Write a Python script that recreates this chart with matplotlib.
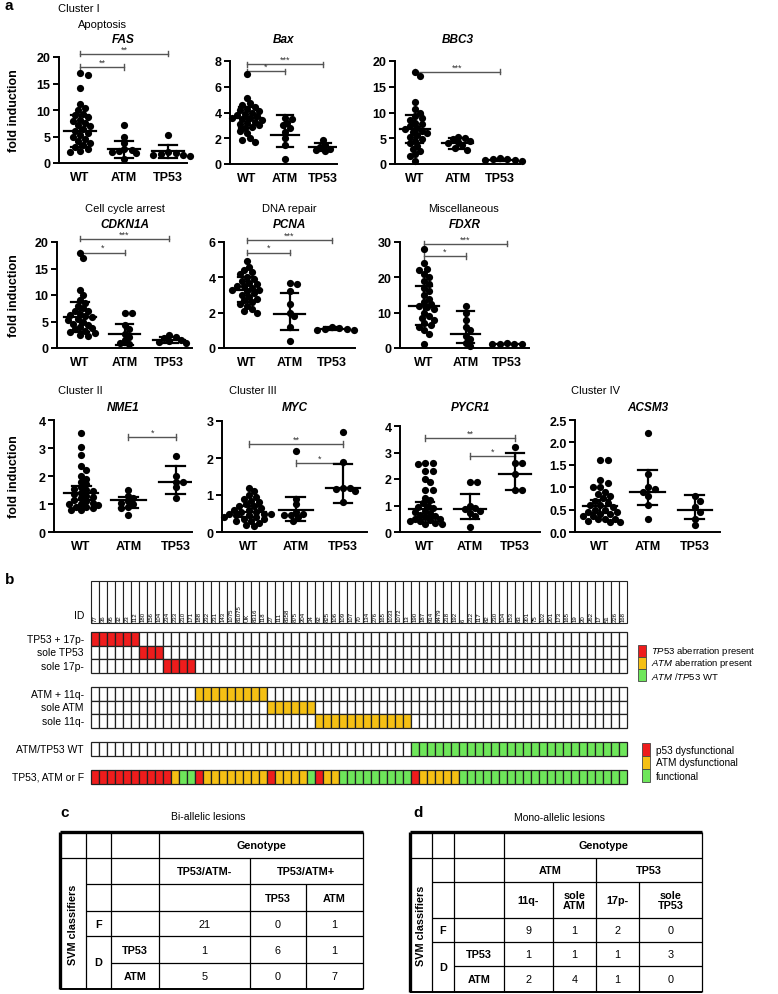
import numpy as np
import matplotlib
matplotlib.use("Agg")
import matplotlib.pyplot as plt
from matplotlib.patches import Rectangle

plt.rcParams['font.family'] = ['Liberation Sans', 'DejaVu Sans']
plt.rcParams['mathtext.fontset'] = 'custom'
plt.rcParams['mathtext.it'] = 'Liberation Sans:italic'
plt.rcParams['mathtext.rm'] = 'Liberation Sans'

W, H = 778, 995
groups = ["WT", "ATM", "TP53"]

# ---------------- panel a: fold induction values ----------------
fas_wt = [17.0, 16.6, 14.1, 11.2, 10.4, 10.0, 9.2, 9.0, 8.6, 8.2, 7.9, 7.5, 7.2, 6.9, 6.5,
          6.1, 5.7, 5.3, 5.0, 4.6, 4.2, 3.8, 3.4, 3.0, 2.6, 2.3, 2.1]
fas_atm = [7.2, 5.0, 3.8, 2.7, 2.4, 2.2, 2.0, 1.8, 0.8]
fas_tp53 = [5.3, 2.1, 1.9, 1.7, 1.6, 1.5, 1.4]
fas_mid, fas_lo, fas_hi = [6.0, 2.6, 2.2], [3.0, 1.0, 1.0], [9.0, 4.2, 3.4]
fas_sig = [(0, 2, 20.6, "**"), (0, 1, 18.1, "**")]

bax_wt = [7.0, 5.1, 4.7, 4.6, 4.4, 4.3, 4.2, 4.1, 4.0, 3.9, 3.8, 3.7, 3.6, 3.6, 3.5, 3.4,
          3.3, 3.2, 3.1, 3.0, 2.9, 2.8, 2.6, 2.4, 2.0, 1.9, 1.7]
bax_atm = [3.6, 3.5, 3.2, 3.0, 2.8, 2.5, 2.0, 1.5, 0.4]
bax_tp53 = [1.9, 1.5, 1.3, 1.2, 1.1, 1.0]
bax_mid, bax_lo, bax_hi = [3.6, 2.25, 1.3], [2.8, 1.3, 1.0], [4.4, 3.8, 1.6]
bax_sig = [(0, 2, 7.75, "***"), (0, 1, 7.2, "*")]

bbc3_wt = [17.8, 17.0, 12.0, 10.6, 10.0, 9.4, 9.0, 8.5, 8.0, 7.7, 7.4, 7.0, 6.8, 6.5, 6.2,
           6.0, 5.6, 5.2, 4.8, 4.5, 4.0, 3.5, 3.0, 2.5, 2.0, 1.5, 0.6]
bbc3_atm = [5.3, 5.0, 4.8, 4.5, 4.2, 4.0, 3.6, 3.2, 2.8]
bbc3_tp53 = [1.2, 1.0, 0.9, 0.8, 0.7, 0.6]
bbc3_mid, bbc3_lo, bbc3_hi = [6.8, 4.0, 0.8], [4.0, 3.0, 0.6], [9.6, 5.0, 1.0]
bbc3_sig = [(0, 2, 17.9, "***")]

cdkn1a_wt = [18.0, 17.0, 11.0, 10.0, 9.0, 8.5, 8.0, 7.5, 7.0, 7.0, 6.5, 6.2, 6.0, 5.8, 5.5,
             5.2, 5.0, 4.6, 4.4, 4.0, 3.8, 3.5, 3.2, 3.0, 2.8, 2.5, 2.2]
cdkn1a_atm = [6.6, 6.6, 4.4, 3.5, 2.6, 2.0, 1.5, 1.0, 0.7]
cdkn1a_tp53 = [2.4, 2.0, 1.8, 1.5, 1.3, 1.2, 1.0]
cdkn1a_mid, cdkn1a_lo, cdkn1a_hi = [5.8, 2.6, 1.5], [3.0, 0.6, 1.0], [8.6, 4.6, 2.0]
cdkn1a_sig = [(0, 2, 20.6, "***"), (0, 1, 18.0, "*")]

pcna_wt = [4.9, 4.6, 4.4, 4.3, 4.2, 4.0, 3.9, 3.8, 3.7, 3.6, 3.5, 3.5, 3.4, 3.3, 3.3, 3.2,
           3.1, 3.0, 2.9, 2.8, 2.7, 2.6, 2.5, 2.4, 2.2, 2.1, 2.0]
pcna_atm = [3.7, 3.6, 3.2, 2.5, 2.0, 1.8, 1.2, 0.4]
pcna_tp53 = [1.2, 1.15, 1.1, 1.05, 1.0, 1.0]
pcna_mid, pcna_lo, pcna_hi = [3.3, 1.9, 1.1], [2.6, 1.0, 1.0], [4.0, 3.1, 1.2]
pcna_sig = [(0, 2, 6.1, "***"), (0, 1, 5.4, "*")]

fdxr_wt = [28.0, 24.0, 22.5, 22.0, 21.0, 20.0, 19.0, 18.0, 17.0, 16.0, 15.0, 14.0, 13.0,
           12.5, 12.0, 11.5, 11.0, 10.0, 9.0, 8.5, 8.0, 7.0, 6.5, 6.0, 5.0, 4.0, 1.0]
fdxr_atm = [12.0, 10.0, 8.0, 6.0, 5.0, 3.5, 2.5, 1.5, 0.5]
fdxr_tp53 = [1.3, 1.2, 1.1, 1.0, 1.0]
fdxr_mid, fdxr_lo, fdxr_hi = [12.0, 3.9, 1.1], [6.5, 1.5, 1.0], [17.5, 10.5, 1.2]
fdxr_sig = [(0, 2, 29.5, "***"), (0, 1, 26.0, "*")]

nme1_wt = [3.55, 3.05, 2.75, 2.35, 2.2, 2.0, 1.9, 1.8, 1.7, 1.6, 1.55, 1.5, 1.45, 1.4, 1.35,
           1.3, 1.25, 1.2, 1.15, 1.1, 1.05, 1.0, 1.0, 0.95, 0.9, 0.9, 0.85, 0.8, 0.8]
nme1_atm = [1.5, 1.3, 1.2, 1.1, 1.05, 1.0, 0.9, 0.85, 0.6]
nme1_tp53 = [2.7, 2.0, 1.8, 1.8, 1.6, 1.2]
nme1_mid, nme1_lo, nme1_hi = [1.4, 1.15, 1.8], [1.15, 0.85, 1.35], [1.65, 1.25, 2.35]
nme1_sig = [(1, 2, 3.39, "*")]

myc_wt = [1.2, 1.1, 1.0, 0.95, 0.9, 0.85, 0.8, 0.75, 0.7, 0.7, 0.65, 0.6, 0.6, 0.55, 0.55,
          0.5, 0.5, 0.5, 0.45, 0.45, 0.4, 0.4, 0.35, 0.35, 0.3, 0.3, 0.25, 0.2, 0.15]
myc_atm = [2.2, 0.9, 0.75, 0.55, 0.5, 0.45, 0.45, 0.4, 0.3]
myc_tp53 = [2.7, 1.9, 1.2, 1.2, 1.15, 1.1, 0.8]
myc_mid, myc_lo, myc_hi = [0.55, 0.6, 1.2], [0.4, 0.3, 0.78], [0.7, 0.95, 1.85]
myc_sig = [(0, 2, 2.38, "**"), (1, 2, 1.86, "*")]

pycr1_wt = [2.6, 2.6, 2.55, 2.3, 2.3, 2.0, 1.9, 1.6, 1.6, 1.3, 1.2, 1.1, 1.0, 0.95, 0.9,
            0.8, 0.75, 0.7, 0.65, 0.6, 0.55, 0.5, 0.5, 0.45, 0.4, 0.4, 0.35, 0.3, 0.3]
pycr1_atm = [1.9, 1.9, 1.0, 0.9, 0.85, 0.8, 0.7, 0.6, 0.2]
pycr1_tp53 = [3.2, 2.6, 2.6, 2.2, 1.6, 1.6]
pycr1_mid, pycr1_lo, pycr1_hi = [0.85, 0.85, 2.2], [0.55, 0.5, 1.6], [1.15, 1.45, 3.0]
pycr1_sig = [(0, 2, 3.55, "**"), (1, 2, 2.87, "*")]

acsm3_wt = [1.6, 1.6, 1.15, 1.1, 1.0, 1.0, 0.9, 0.85, 0.8, 0.75, 0.7, 0.65, 0.6, 0.6, 0.55,
            0.5, 0.5, 0.45, 0.45, 0.4, 0.4, 0.35, 0.35, 0.3, 0.3, 0.28, 0.25, 0.22, 0.22]
acsm3_atm = [2.2, 1.3, 1.0, 0.95, 0.9, 0.8, 0.6, 0.3]
acsm3_tp53 = [0.8, 0.7, 0.55, 0.45, 0.3, 0.15]
acsm3_mid, acsm3_lo, acsm3_hi = [0.57, 0.9, 0.48], [0.42, 0.6, 0.3], [0.72, 1.38, 0.82]
acsm3_sig = []

# ---------------- panel b ----------------
patient_ids = ["77", "36", "95", "32", "23", "112", "180", "156", "104", "234", "233", "210",
               "171", "188", "232", "231", "143", "1075", "81075", "UK", "8316", "118", "27",
               "111", "8358", "875", "204", "34", "92", "825", "106", "109", "107", "70", "134",
               "276", "165", "1033", "1072", "13", "190", "187", "914", "8479", "218", "192",
               "6", "212", "117", "82", "230", "104", "153", "83", "301", "75", "102", "201",
               "173", "165", "19", "20", "262", "17", "51", "226", "168"]
tp53_rows = ["TP53 + 17p-", "sole TP53", "sole 17p-"]
tp53_counts = [6, 3, 4]
atm_rows = ["ATM + 11q-", "sole ATM", "sole 11q-"]
atm_counts = [9, 6, 12]
wt_count = 27
svm_codes = ["p53", "atm", "ok", "p53", "atm", "p53", "atm", "ok", "p53", "atm", "ok", "p53", "atm", "ok"]
svm_runs = [10, 1, 2, 1, 8, 1, 4, 1, 1, 2, 9, 1, 5, 21]

# ---------------- panels c / d ----------------
bi_header = ["TP53/ATM-", "TP53/ATM+"]
bi_sub = ["", "TP53", "ATM"]
bi_F = [21, 0, 1]
bi_D_tp53 = [1, 6, 1]
bi_D_atm = [5, 0, 7]
mono_header = ["ATM", "TP53"]
mono_sub = ["11q-", "sole\nATM", "17p-", "sole\nTP53"]
mono_F = [9, 1, 2, 0]
mono_D_tp53 = [1, 1, 1, 3]
mono_D_atm = [2, 4, 1, 0]

RED, YEL, GRN = "#ee1c1c", "#f5c014", "#6ee65a"
code_color = {"p53": RED, "atm": YEL, "ok": GRN}

fig = plt.figure(figsize=(W / 100, H / 100), dpi=100)


def px_axes(l, t, r, b):
    return fig.add_axes([l / W, 1 - b / H, (r - l) / W, (b - t) / H])


def swarm_offsets(ax, xc, vals, d=6.2):
    tr = ax.transData
    ypx = tr.transform(np.column_stack([np.full(len(vals), xc), vals]))[:, 1]
    ux = tr.transform((1, 0))[0] - tr.transform((0, 0))[0]
    placed = []
    offs = np.zeros(len(vals))
    for k in np.argsort(-np.asarray(vals)):
        for step in range(80):
            o = 0.0 if step == 0 else ((step + 1) // 2) * (d / 2.5) * (1 if step % 2 else -1)
            if all((o - px) ** 2 + (ypx[k] - py) ** 2 >= d * d * 0.8 for px, py in placed):
                break
        placed.append((o, ypx[k]))
        offs[k] = o / ux
    return offs


panels = [
    ("FAS", [fas_wt, fas_atm, fas_tp53], fas_mid, fas_lo, fas_hi, fas_sig, 20, 5, (59, 58, 187, 164, 0.52, 3.43), 40),
    ("Bax", [bax_wt, bax_atm, bax_tp53], bax_mid, bax_lo, bax_hi, bax_sig, 8, 2, (230, 62, 337, 165, 0.55, 3.37), 40),
    ("BBC3", [bbc3_wt, bbc3_atm, bbc3_tp53], bbc3_mid, bbc3_lo, bbc3_hi, bbc3_sig, 20, 5, (395, 62, 520, 165, 0.53, 3.47), 40),
    ("CDKN1A", [cdkn1a_wt, cdkn1a_atm, cdkn1a_tp53], cdkn1a_mid, cdkn1a_lo, cdkn1a_hi, cdkn1a_sig, 20, 5, (57, 243, 192, 349, 0.48, 3.52), 225),
    ("PCNA", [pcna_wt, pcna_atm, pcna_tp53], pcna_mid, pcna_lo, pcna_hi, pcna_sig, 6, 2, (224, 243, 355, 349, 0.46, 3.54), 225),
    ("FDXR", [fdxr_wt, fdxr_atm, fdxr_tp53], fdxr_mid, fdxr_lo, fdxr_hi, fdxr_sig, 30, 10, (400, 243, 529, 349, 0.42, 3.53), 225),
    ("NME1", [nme1_wt, nme1_atm, nme1_tp53], nme1_mid, nme1_lo, nme1_hi, nme1_sig, 4, 1, (54, 421, 192, 533, 0.43, 3.34), 408),
    ("MYC", [myc_wt, myc_atm, myc_tp53], myc_mid, myc_lo, myc_hi, myc_sig, 3, 1, (222, 422, 367, 533, 0.43, 3.51), 408),
    ("PYCR1", [pycr1_wt, pycr1_atm, pycr1_tp53], pycr1_mid, pycr1_lo, pycr1_hi, pycr1_sig, 4, 1, (400, 427, 540, 533, 0.44, 3.56), 408),
    ("ACSM3", [acsm3_wt, acsm3_atm, acsm3_tp53], acsm3_mid, acsm3_lo, acsm3_hi, acsm3_sig, 2.5, 0.5, (575, 421, 720, 533, 0.47, 3.53), 408),
]
ylabel_on = {"FAS", "CDKN1A", "NME1"}

for name, data, mid, lo, hi, sig, ytop, ystep, box, title_y in panels:
    l, t, r, b, x0, x1 = box
    ax = px_axes(l, t, r, b)
    ax.set_xlim(x0, x1)
    ax.set_ylim(0, ytop)
    for s in ["top", "right"]:
        ax.spines[s].set_visible(False)
    for s in ["left", "bottom"]:
        ax.spines[s].set_linewidth(1.4)
    ticks = np.arange(0, ytop + ystep / 2, ystep)
    ax.set_yticks(ticks)
    if ystep < 1:
        ax.set_yticklabels([f"{v:.1f}" for v in ticks])
    else:
        ax.set_yticklabels([f"{v:g}" for v in ticks])
    ax.set_xticks([1, 2, 3])
    ax.set_xticklabels(groups)
    ax.tick_params(axis="y", length=4, width=1.4, pad=2, labelsize=9)
    ax.tick_params(axis="x", length=0, pad=6, labelsize=9)
    for lab in ax.get_xticklabels() + ax.get_yticklabels():
        lab.set_fontweight("bold")
    for i, vals in enumerate(data):
        xc = i + 1
        offs = swarm_offsets(ax, xc, vals)
        ax.scatter(xc + offs, vals, s=27, color="black", linewidths=0, zorder=3, clip_on=False)
        ax.plot([xc - 0.36, xc + 0.36], [mid[i], mid[i]], color="black", lw=1.6, zorder=4)
        ax.plot([xc, xc], [lo[i], hi[i]], color="black", lw=1.6, zorder=4)
        for cap in (lo[i], hi[i]):
            ax.plot([xc - 0.2, xc + 0.2], [cap, cap], color="black", lw=1.6, zorder=4)
    for i, j, yb, stars in sig:
        ax.plot([i + 1, j + 1], [yb, yb], color="#555555", lw=1.0, clip_on=False)
        dy = ytop * 0.025
        for e in (i + 1, j + 1):
            ax.plot([e, e], [yb - dy, yb + dy], color="#555555", lw=1.0, clip_on=False)
        ax.text((i + j) / 2 + 1, yb + ytop * 0.005, stars, ha="center", va="bottom",
                fontsize=6.5, color="#333333", clip_on=False)
    fig.text(((l + r) / 2) / W, 1 - title_y / H, name, ha="center", va="center",
             fontsize=8.5, fontweight="bold", fontstyle="italic")
    if name in ylabel_on:
        fig.text(14 / W, 1 - ((t + b) / 2) / H, "fold induction", rotation=90,
                 ha="center", va="center", fontsize=9, fontweight="bold")

# overlay axes in pixel coordinates for labels, panel b and tables
ov = fig.add_axes([0, 0, 1, 1])
ov.set_xlim(0, W)
ov.set_ylim(H, 0)
ov.axis("off")

for lab, x, y in [("a", 5, 6), ("b", 5, 580), ("c", 60, 813), ("d", 413, 813)]:
    ov.text(x, y, lab, fontsize=11, fontweight="bold", ha="left", va="center")
ov.text(58, 9, "Cluster I", fontsize=8, ha="left", va="center")
ov.text(78, 25, "Apoptosis", fontsize=8, ha="left", va="center")
ov.text(125, 209, "Cell cycle arrest", fontsize=8, ha="center", va="center")
ov.text(289, 209, "DNA repair", fontsize=8, ha="center", va="center")
ov.text(464, 209, "Miscellaneous", fontsize=8, ha="center", va="center")
ov.text(58, 391, "Cluster II", fontsize=8, ha="left", va="center")
ov.text(229, 391, "Cluster III", fontsize=8, ha="left", va="center")
ov.text(571, 391, "Cluster IV", fontsize=8, ha="left", va="center")

# ---- panel b grid ----
gx0, cw, rh = 91, 8.0, 13.5
n = len(patient_ids)
ec = "#222222"


def draw_row(y, colors, label):
    for k in range(n):
        ov.add_patch(Rectangle((gx0 + k * cw, y), cw, rh, facecolor=colors[k],
                               edgecolor=ec, lw=0.9))
    ov.text(84, y + rh / 2, label, ha="right", va="center", fontsize=7.5)


# ID box
id_top, id_bot = 582, 624
for k, pid in enumerate(patient_ids):
    ov.add_patch(Rectangle((gx0 + k * cw, id_top), cw, id_bot - id_top, facecolor="white",
                           edgecolor=ec, lw=0.8))
    ov.text(gx0 + (k + 0.5) * cw, id_bot - 1.5, pid, rotation=90, ha="center", va="bottom",
            fontsize=4.3)
ov.text(84, id_bot - 8, "ID", ha="right", va="center", fontsize=7.5)

start = 0
y = 633
for lab, c in zip(tp53_rows, tp53_counts):
    cols = ["white"] * n
    for k in range(start, start + c):
        cols[k] = RED
    draw_row(y, cols, lab)
    start += c
    y += rh
y = 688
for lab, c in zip(atm_rows, atm_counts):
    cols = ["white"] * n
    for k in range(start, start + c):
        cols[k] = YEL
    draw_row(y, cols, lab)
    start += c
    y += rh
cols = ["white"] * n
for k in range(start, start + wt_count):
    cols[k] = GRN
draw_row(743, cols, "ATM/TP53 WT")
cols = []
for code, run in zip(svm_codes, svm_runs):
    cols += [code_color[code]] * run
draw_row(771, cols, "TP53, ATM or F")

# legends
leg1 = [(RED, r"$\mathit{TP53}$ aberration present"), (YEL, r"$\mathit{ATM}$ aberration present"),
        (GRN, r"$\mathit{ATM}$ /$\mathit{TP53}$ WT")]
for k, (c, txt) in enumerate(leg1):
    yy = 646 + k * 12
    ov.add_patch(Rectangle((638, yy), 8, 12, facecolor=c, edgecolor="#444444", lw=0.6))
    ov.text(651, yy + 6, txt, ha="left", va="center", fontsize=6.8)
leg2 = [(RED, "p53 dysfunctional"), (YEL, "ATM dysfunctional"), (GRN, "functional")]
for k, (c, txt) in enumerate(leg2):
    yy = 744 + k * 13
    ov.add_patch(Rectangle((642, yy), 8, 13, facecolor=c, edgecolor="#444444", lw=0.6))
    ov.text(656, yy + 6.5, txt, ha="left", va="center", fontsize=7.2)

# ---- tables ----
def hline(y, x0, x1, lw=0.9):
    ov.plot([x0, x1], [y, y], color="black", lw=lw, solid_capstyle="butt")


def vline(x, y0, y1, lw=0.9):
    ov.plot([x, x], [y0, y1], color="black", lw=lw, solid_capstyle="butt")


def cell_text(x0, x1, y0, y1, s, bold=False):
    ov.text((x0 + x1) / 2, (y0 + y1) / 2, s, ha="center", va="center", fontsize=7.8,
            fontweight="bold" if bold else "normal", linespacing=1.0)


ov.text(208, 817, "Bi-allelic lesions", ha="center", va="center", fontsize=7.5)
ov.text(560, 818, "Mono-allelic lesions", ha="center", va="center", fontsize=7.5)

# table c
cx = [60, 86, 111, 159, 250, 306, 363]
cy = [833, 859, 885, 912, 937, 964, 990]
hline(cy[0], cx[0], cx[-1], lw=2.4)
hline(cy[1], cx[0], cx[-1])
for yy in cy[2:5]:
    hline(yy, cx[1], cx[-1])
hline(cy[5], cx[2], cx[-1])
hline(cy[6], cx[0], cx[-1], lw=1.4)
vline(cx[0], cy[0], cy[6], lw=2.4)
for xx in cx[1:4]:
    vline(xx, cy[0], cy[6])
vline(cx[4], cy[1], cy[6])
vline(cx[5], cy[2], cy[6])
vline(cx[6], cy[0], cy[6])
cell_text(cx[3], cx[6], cy[0], cy[1], "Genotype", True)
cell_text(cx[3], cx[4], cy[1], cy[2], bi_header[0], True)
cell_text(cx[4], cx[6], cy[1], cy[2], bi_header[1], True)
for k in range(3):
    cell_text(cx[3 + k], cx[4 + k], cy[2], cy[3], bi_sub[k], True)
    cell_text(cx[3 + k], cx[4 + k], cy[3], cy[4], str(bi_F[k]))
    cell_text(cx[3 + k], cx[4 + k], cy[4], cy[5], str(bi_D_tp53[k]))
    cell_text(cx[3 + k], cx[4 + k], cy[5], cy[6], str(bi_D_atm[k]))
cell_text(cx[1], cx[2], cy[3], cy[4], "F", True)
cell_text(cx[1], cx[2], cy[4], cy[6], "D", True)
cell_text(cx[2], cx[3], cy[4], cy[5], "TP53", True)
cell_text(cx[2], cx[3], cy[5], cy[6], "ATM", True)
ov.text((cx[0] + cx[1]) / 2, (cy[1] + cy[6]) / 2, "SVM classifiers", rotation=90,
        ha="center", va="center", fontsize=7.8, fontweight="bold")

# table d
dx = [410, 432, 454, 504, 553, 596, 639, 702]
dy = [833, 859, 883, 919, 943, 967, 993]
hline(dy[0], dx[0], dx[-1], lw=2.4)
hline(dy[1], dx[0], dx[-1])
for yy in dy[2:5]:
    hline(yy, dx[1], dx[-1])
hline(dy[5], dx[2], dx[-1])
hline(dy[6], dx[0], dx[-1], lw=1.4)
vline(dx[0], dy[0], dy[6], lw=2.4)
for xx in dx[1:4]:
    vline(xx, dy[0], dy[6])
vline(dx[5], dy[1], dy[6])
vline(dx[4], dy[2], dy[6])
vline(dx[6], dy[2], dy[6])
vline(dx[7], dy[0], dy[6])
cell_text(dx[3], dx[7], dy[0], dy[1], "Genotype", True)
cell_text(dx[3], dx[5], dy[1], dy[2], mono_header[0], True)
cell_text(dx[5], dx[7], dy[1], dy[2], mono_header[1], True)
for k in range(4):
    cell_text(dx[3 + k], dx[4 + k], dy[2], dy[3], mono_sub[k], True)
    cell_text(dx[3 + k], dx[4 + k], dy[3], dy[4], str(mono_F[k]))
    cell_text(dx[3 + k], dx[4 + k], dy[4], dy[5], str(mono_D_tp53[k]))
    cell_text(dx[3 + k], dx[4 + k], dy[5], dy[6], str(mono_D_atm[k]))
cell_text(dx[1], dx[2], dy[3], dy[4], "F", True)
cell_text(dx[1], dx[2], dy[4], dy[6], "D", True)
cell_text(dx[2], dx[3], dy[4], dy[5], "TP53", True)
cell_text(dx[2], dx[3], dy[5], dy[6], "ATM", True)
ov.text((dx[0] + dx[1]) / 2, (dy[1] + dy[6]) / 2, "SVM classifiers", rotation=90,
        ha="center", va="center", fontsize=7.8, fontweight="bold")

fig.savefig("out.png", dpi=100)
